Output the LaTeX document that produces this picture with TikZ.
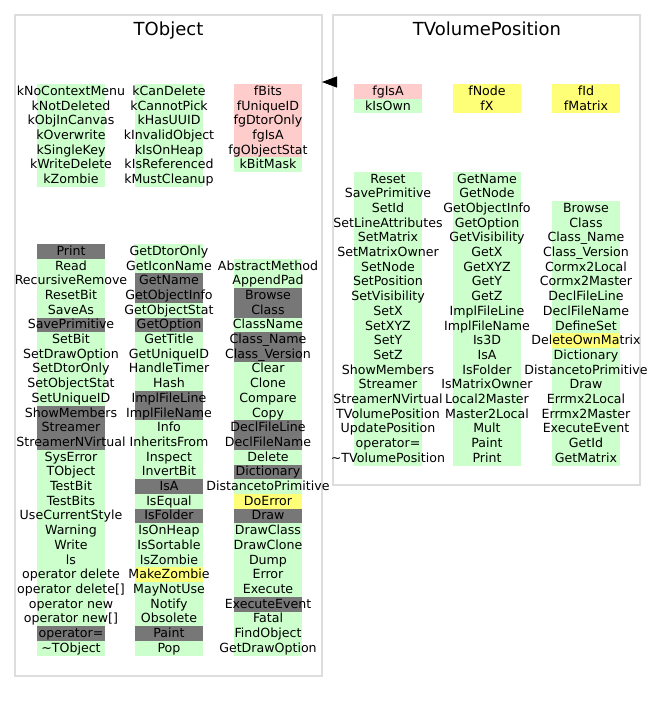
\documentclass[tikz,border=0pt]{standalone}
\usepackage{fontspec}
\setmainfont{DejaVu Sans}
\usetikzlibrary{arrows.meta}

\definecolor{gr}{HTML}{CCFFCC}
\definecolor{pk}{HTML}{FFCCCC}
\definecolor{ye}{HTML}{FFFF77}
\definecolor{dk}{HTML}{777777}
\definecolor{frame}{HTML}{DDDDDD}

\tikzset{
  classbox/.style={draw=frame, line width=2pt, rectangle, inner sep=0pt, outer sep=0pt},
  classtitle/.style={anchor=base, inner sep=0pt, font=\fontsize{18}{20}\selectfont},
  member/.style={anchor=base, inner sep=0pt, font=\fontsize{12.6}{14.7}\selectfont},
  inherit/.style={line width=0.8pt, -{Triangle[length=15pt,width=11pt]}}
}

% one column of members: prefix, x centre, y of the first row, list colour/text
\newcommand\membercol[4]{%
  \foreach \c/\t [count=\i from 0] in {#4} {
    \fill[\c] (#2-34, #3+\i*14.7) rectangle ++(68, 14.7);
    \node[member] (#1-\i) at (#2, #3+\i*14.7+11.35) {\t};
  }}

\begin{document}
\begin{tikzpicture}[x=1pt, y=-1pt]
\useasboundingbox (0,0) rectangle (656,703);

% class frames
\node[classbox, minimum width=307pt, minimum height=661pt] (tobject) at (168.5,345.5) {};
\node[classbox, minimum width=307pt, minimum height=470pt] (tvp) at (486.5,250) {};
\node[classtitle] (tobject-title) at (168.5,36) {TObject};
\node[classtitle] (tvp-title) at (487,36) {TVolumePosition};

% TObject data members
\membercol{tod1}{71}{84}{gr/kNoContextMenu, gr/kNotDeleted, gr/kObjInCanvas, gr/kOverwrite, gr/kSingleKey, gr/kWriteDelete, gr/kZombie}
\membercol{tod2}{169}{84}{gr/kCanDelete, gr/kCannotPick, gr/kHasUUID, gr/kInvalidObject, gr/kIsOnHeap, gr/kIsReferenced, gr/kMustCleanup}
\membercol{tod3}{268}{84}{pk/fBits, pk/fUniqueID, pk/fgDtorOnly, pk/fgIsA, pk/fgObjectStat, gr/kBitMask}

% TObject methods
\membercol{tom1}{71}{244}{dk/Print, gr/Read, gr/RecursiveRemove, gr/ResetBit, gr/SaveAs, dk/SavePrimitive, gr/SetBit, gr/SetDrawOption, gr/SetDtorOnly, gr/SetObjectStat, gr/SetUniqueID, dk/ShowMembers, dk/Streamer, dk/StreamerNVirtual, gr/SysError, gr/TObject, gr/TestBit, gr/TestBits, gr/UseCurrentStyle, gr/Warning, gr/Write, gr/ls, gr/{operator delete}, gr/{operator delete[]}, gr/{operator new}, gr/{operator new[]}, dk/{operator=}, gr/{\textasciitilde TObject}}
\membercol{tom2}{169}{244}{gr/GetDtorOnly, gr/GetIconName, dk/GetName, dk/GetObjectInfo, gr/GetObjectStat, dk/GetOption, gr/GetTitle, gr/GetUniqueID, gr/HandleTimer, gr/Hash, dk/ImplFileLine, dk/ImplFileName, gr/Info, gr/InheritsFrom, gr/Inspect, gr/InvertBit, dk/IsA, gr/IsEqual, dk/IsFolder, gr/IsOnHeap, gr/IsSortable, gr/IsZombie, ye/MakeZombie, gr/MayNotUse, gr/Notify, gr/Obsolete, dk/Paint, gr/Pop}
\membercol{tom3}{268}{258.7}{gr/AbstractMethod, gr/AppendPad, dk/Browse, dk/Class, gr/ClassName, dk/Class\_Name, dk/Class\_Version, gr/Clear, gr/Clone, gr/Compare, gr/Copy, dk/DeclFileLine, dk/DeclFileName, gr/Delete, dk/Dictionary, gr/DistancetoPrimitive, ye/DoError, dk/Draw, gr/DrawClass, gr/DrawClone, gr/Dump, gr/Error, gr/Execute, dk/ExecuteEvent, gr/Fatal, gr/FindObject, gr/GetDrawOption}

% TVolumePosition data members
\membercol{tvd1}{388}{84}{pk/fgIsA, gr/kIsOwn}
\membercol{tvd2}{487}{84}{ye/fNode, ye/fX}
\membercol{tvd3}{586}{84}{ye/fId, ye/fMatrix}

% TVolumePosition methods
\membercol{tvm1}{388}{171.7}{gr/Reset, gr/SavePrimitive, gr/SetId, gr/SetLineAttributes, gr/SetMatrix, gr/SetMatrixOwner, gr/SetNode, gr/SetPosition, gr/SetVisibility, gr/SetX, gr/SetXYZ, gr/SetY, gr/SetZ, gr/ShowMembers, gr/Streamer, gr/StreamerNVirtual, gr/TVolumePosition, gr/UpdatePosition, gr/{operator=}, gr/{\textasciitilde TVolumePosition}}
\membercol{tvm2}{487}{171.7}{gr/GetName, gr/GetNode, gr/GetObjectInfo, gr/GetOption, gr/GetVisibility, gr/GetX, gr/GetXYZ, gr/GetY, gr/GetZ, gr/ImplFileLine, gr/ImplFileName, gr/Is3D, gr/IsA, gr/IsFolder, gr/IsMatrixOwner, gr/Local2Master, gr/Master2Local, gr/Mult, gr/Paint, gr/Print}
\membercol{tvm3}{586}{201.1}{gr/Browse, gr/Class, gr/Class\_Name, gr/Class\_Version, gr/Cormx2Local, gr/Cormx2Master, gr/DeclFileLine, gr/DeclFileName, gr/DefineSet, ye/DeleteOwnMatrix, gr/Dictionary, gr/DistancetoPrimitive, gr/Draw, gr/Errmx2Local, gr/Errmx2Master, gr/ExecuteEvent, gr/GetId, gr/GetMatrix}

% inheritance: TVolumePosition derives from TObject
\coordinate (base-in) at (tobject.east |- 0,82);
\coordinate (base-out) at (tvp.west |- 0,82);
\draw[inherit] (base-out) -- (base-in);
\end{tikzpicture}
\end{document}
